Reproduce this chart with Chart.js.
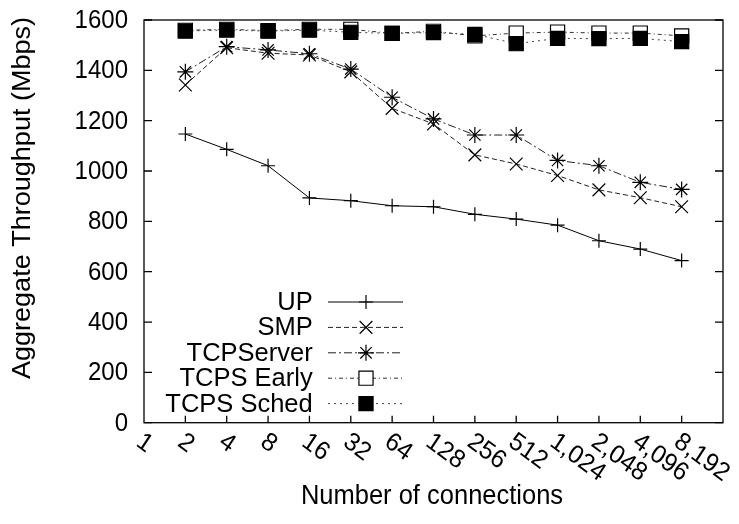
<!DOCTYPE html>
<html>
<head>
<meta charset="utf-8">
<script src="https://cdn.jsdelivr.net/npm/chart.js@4.4.1/dist/chart.umd.min.js"></script>
<style>
  html, body { margin: 0; padding: 0; background: #fff; }
  #wrap { width: 739px; height: 524px; }
</style>
</head>
<body>
<div id="wrap"><canvas id="myChart" width="739" height="524"></canvas></div>
<script>
// number of connections (tick labels), first one has no data
const categories = ['1', '2', '4', '8', '16', '32', '64', '128', '256', '512', '1,024', '2,048', '4,096', '8,192'];
const yTicks = [0, 200, 400, 600, 800, 1000, 1200, 1400, 1600];

const upValues = [1147, 1086, 1021, 893, 882, 862, 858, 828, 809, 785, 723, 690, 644];
const smpValues = [1342, 1490, 1468, 1461, 1394, 1249, 1187, 1064, 1028, 982, 925, 894, 858];
const tcpServerValues = [1394, 1494, 1481, 1466, 1405, 1293, 1207, 1143, 1143, 1042, 1021, 955, 927];
const tcpsEarlyValues = [1559, 1563, 1558, 1563, 1563, 1547, 1555, 1537, 1548, 1552, 1548, 1548, 1537];
const tcpsSchedValues = [1556, 1560, 1556, 1560, 1551, 1547, 1550, 1543, 1506, 1527, 1526, 1527, 1514];

const FONT = '"Liberation Sans", Arial, Helvetica, sans-serif';

function toPoints(values) {
	// values start at the second category (2 connections)
	return values.map(function(v, i) { return { x: i + 1, y: v }; });
}

function serie(label, values, opts) {
	return Object.assign({
		label: label,
		data: toPoints(values),
		borderColor: '#000',
		backgroundColor: '#000',
		borderWidth: 1,
		pointBorderColor: '#000',
		pointBorderWidth: 1.2,
		pointHoverRadius: 0,
		tension: 0,
		fill: false
	}, opts);
}

const datasets = [
	serie('UP', upValues, { pointStyle: 'cross', pointRadius: 7, order: 5 }),
	serie('SMP', smpValues, { pointStyle: 'crossRot', pointRadius: 9, borderDash: [5, 3], borderColor: '#222', order: 4 }),
	serie('TCPServer', tcpServerValues, { pointStyle: 'star', pointRadius: 8, borderDash: [8, 3, 2, 3], borderColor: '#222', order: 3 }),
	serie('TCPS Early', tcpsEarlyValues, { pointStyle: 'rect', pointRadius: 10, pointBackgroundColor: '#fff', borderDash: [4, 3, 1, 3], borderColor: '#333', order: 2 }),
	serie('TCPS Sched', tcpsSchedValues, { pointStyle: 'rect', pointRadius: 10, pointBackgroundColor: '#000', borderDash: [2, 4], borderColor: '#444', order: 1 })
];

// text in the original is a little taller than wide
function drawText(ctx, text, x, y, angle, stretch) {
	ctx.save();
	ctx.translate(x, y);
	ctx.scale(1, stretch || 1);
	ctx.rotate(angle || 0);
	ctx.fillText(text, 0, 0);
	ctx.restore();
}

const plotExtras = {
	id: 'plotExtras',
	afterDraw: function(chart) {
		const ctx = chart.ctx;
		const a = chart.chartArea;
		const x = chart.scales.x;
		const y = chart.scales.y;
		ctx.save();

		// frame and inward ticks
		ctx.strokeStyle = '#000';
		ctx.lineWidth = 1.3;
		ctx.setLineDash([]);
		ctx.strokeRect(a.left, a.top, a.right - a.left, a.bottom - a.top);
		ctx.beginPath();
		yTicks.forEach(function(v) {
			const py = y.getPixelForValue(v);
			ctx.moveTo(a.left, py); ctx.lineTo(a.left + 8, py);
			ctx.moveTo(a.right, py); ctx.lineTo(a.right - 8, py);
		});
		categories.forEach(function(c, i) {
			if (i === 0) return;
			const px = x.getPixelForValue(i);
			ctx.moveTo(px, a.bottom); ctx.lineTo(px, a.bottom - 7);
		});
		ctx.stroke();

		ctx.fillStyle = '#000';

		// y tick labels
		ctx.font = '24px ' + FONT;
		ctx.textAlign = 'right';
		ctx.textBaseline = 'middle';
		yTicks.forEach(function(v) {
			drawText(ctx, String(v), a.left - 16, y.getPixelForValue(v) + 1, 0, 1.07);
		});

		// rotated x tick labels
		ctx.font = '24.5px ' + FONT;
		ctx.textAlign = 'left';
		ctx.textBaseline = 'top';
		categories.forEach(function(c, i) {
			const px = x.getPixelForValue(i);
			drawText(ctx, c, px + 2, a.bottom + 6, 35 * Math.PI / 180, 1.05);
		});

		// axis titles
		ctx.font = '25.5px ' + FONT;
		ctx.textAlign = 'center';
		ctx.textBaseline = 'middle';
		drawText(ctx, 'Number of connections', 432, 497, 0, 1.05);
		drawText(ctx, 'Aggregate Throughput (Mbps)', 23, 198, -Math.PI / 2, 1.06);

		// legend
		ctx.font = '25.5px ' + FONT;
		ctx.textAlign = 'right';
		ctx.textBaseline = 'middle';
		chart.data.datasets.forEach(function(ds, i) {
			const ly = 302 + i * 25.4;
			ctx.fillStyle = '#000';
			drawText(ctx, ds.label, 312.7, ly + 1, 0, 1);
			ctx.strokeStyle = ds.borderColor;
			ctx.lineWidth = ds.borderWidth;
			ctx.setLineDash(ds.borderDash || []);
			ctx.beginPath();
			ctx.moveTo(328, ly); ctx.lineTo(403, ly);
			ctx.stroke();
			ctx.setLineDash([]);
			ctx.strokeStyle = '#000';
			ctx.fillStyle = ds.pointBackgroundColor || '#000';
			ctx.lineWidth = ds.pointBorderWidth;
			Chart.helpers.drawPoint(ctx, {
				pointStyle: ds.pointStyle,
				radius: ds.pointRadius,
				rotation: 0,
				borderWidth: ds.pointBorderWidth
			}, 366, ly);
		});
		ctx.restore();
	}
};

const ctx = document.getElementById('myChart').getContext('2d');
new Chart(ctx, {
	type: 'line',
	data: { datasets: datasets },
	options: {
		responsive: false,
		animation: false,
		events: [],
		layout: { padding: { top: 20, right: 16, left: 0, bottom: 0 } },
		plugins: {
			legend: { display: false },
			tooltip: { enabled: false }
		},
		scales: {
			x: {
				type: 'linear',
				min: 0,
				max: 14,
				grid: { display: false, drawTicks: false },
				border: { display: false },
				ticks: { display: false },
				afterFit: function(s) { s.height = 101.3; }
			},
			y: {
				min: 0,
				max: 1600,
				grid: { display: false, drawTicks: false },
				border: { display: false },
				ticks: { display: false },
				afterFit: function(s) { s.width = 144; }
			}
		}
	},
	plugins: [plotExtras]
});
</script>
</body>
</html>
